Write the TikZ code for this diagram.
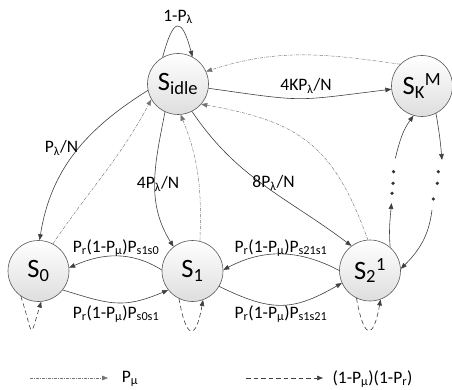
\documentclass[tikz,border=0pt]{standalone}
\usepackage{fontspec}
\setmainfont{Carlito}
\usetikzlibrary{arrows.meta}
\begin{document}
\begin{tikzpicture}[x=1pt,y=1pt,
  state/.style={circle, draw=black!65, line width=0.6pt, top color=white,
    bottom color=black!13, minimum size=61pt, inner sep=0pt,
    font=\fontsize{26.5}{28}\selectfont},
  lbl/.style={font=\fontsize{17.5}{19}\selectfont, inner sep=1pt},
  tip/.style={-{Triangle[length=6pt,width=4.6pt]}},
  flow/.style={draw=black!75, line width=0.6pt, tip},
  back/.style={draw=black!55, line width=0.45pt,
    dash pattern=on 3pt off 1.2pt on 0.6pt off 1.2pt, tip},
  stay/.style={draw=black!75, line width=0.6pt, dash pattern=on 4.5pt off 3pt, tip},
  vdot/.style={circle, fill=black!80, inner sep=0pt, minimum size=3.6pt}
]
\useasboundingbox (0,0) rectangle (452,389);

% states
\node[state] (Si) at (178,305) {S\textsubscript{idle}};
\node[state] (SK) at (422,303) {S\textsubscript{K}\textsuperscript{M}};
\node[state] (S0) at (38.5,118) {S\textsubscript{0}};
\node[state] (S1) at (192.5,118) {S\textsubscript{1}};
\node[state] (S2) at (370,118.5) {S\textsubscript{2}\textsuperscript{1}};

% idle state: stay idle, and new arrivals
\draw[flow] (Si.120) .. controls +(75:42) and +(105:42) .. (Si.62);
\draw[flow] (Si.-8) to[out=-8, in=187, looseness=1.4] (SK.186);
\draw[flow] (Si.192) to[out=212, in=81] (S0.88);
\draw[flow] (Si.245) to[out=259, in=122] (S1.128);
\draw[flow] (Si.297) to[out=-56, in=143] (S2.127);

% returns to idle
\draw[back] (SK.135) to[out=172, in=18] (Si.24);
\draw[back] (S0.62) to[out=56, in=242] (Si.210);
\draw[back] (S1.76) to[out=88, in=292] (Si.275);
\draw[back] (S2.94) to[out=110, in=350, looseness=1.2] (Si.-41);

% transitions along the chain
\draw[flow] (S1.178) to[out=148, in=24] (S0.6);
\draw[flow] (S0.-38) to[out=-17, in=203, looseness=1.2] (S1.218);
\draw[flow] (S2.180) to[out=152, in=28] (S1.2);
\draw[flow] (S1.-30) to[out=-26, in=210, looseness=1.2] (S2.204);

% self loops below the chain
\draw[stay] (S0.235) .. controls +(288:42) and +(253:42) .. (S0.275);
\draw[stay] (S1.244) .. controls +(280:42) and +(260:42) .. (S1.290);
\draw[stay] (S2.244) .. controls +(280:42) and +(260:42) .. (S2.290);

% path up to S_K^M through the intermediate states
\coordinate (upA) at (391.5,186);
\coordinate (upB) at (395.3,230.7);
\coordinate (dnA) at (442,229);
\coordinate (dnB) at (432,179);
\draw[flow] (S2.49) to[out=95, in=265] (upA);
\draw[flow] (upB) to[out=76, in=234] (SK.254);
\draw[flow] (SK.297) to[out=280, in=95] (dnA);
\draw[flow] (dnB) to[out=263, in=45] (S2.3);
\node[vdot] (dl1) at (393.5,217.3) {};
\node[vdot] (dl2) at (393,205.7) {};
\node[vdot] (dl3) at (392,195.7) {};
\node[vdot] (dr1) at (438.3,217.3) {};
\node[vdot] (dr2) at (437.3,205.7) {};
\node[vdot] (dr3) at (433.3,190) {};

% labels
\node[lbl] (tLoop) at (178,372) {1-P\textsubscript{λ}};
\node[lbl] (tK) at (306,303) {4KP\textsubscript{λ}/N};
\node[lbl] (t0) at (61.5,241) {P\textsubscript{λ}/N};
\node[lbl] (t1) at (158,205) {4P\textsubscript{λ}/N};
\node[lbl] (t2) at (273.5,206) {8P\textsubscript{λ}/N};
\node[lbl] (t10) at (116,141) {P\textsubscript{r}(1-P\textsubscript{μ})P\textsubscript{s1s0}};
\node[lbl] (t01) at (116,75) {P\textsubscript{r}(1-P\textsubscript{μ})P\textsubscript{s0s1}};
\node[lbl] (t21) at (281,141) {P\textsubscript{r}(1-P\textsubscript{μ})P\textsubscript{s21s1}};
\node[lbl] (t12) at (281,75) {P\textsubscript{r}(1-P\textsubscript{μ})P\textsubscript{s1s21}};

% legend
\coordinate (ga) at (30,11);
\coordinate (gb) at (108,11);
\coordinate (gc) at (246,11);
\coordinate (gd) at (323,11);
\draw[back] (ga) -- (gb);
\draw[stay] (gc) -- (gd);
\node[lbl] (gP) at (130,10) {P\textsubscript{μ}};
\node[lbl] (gQ) at (372.5,10) {(1-P\textsubscript{μ})(1-P\textsubscript{r})};
\end{tikzpicture}
\end{document}
